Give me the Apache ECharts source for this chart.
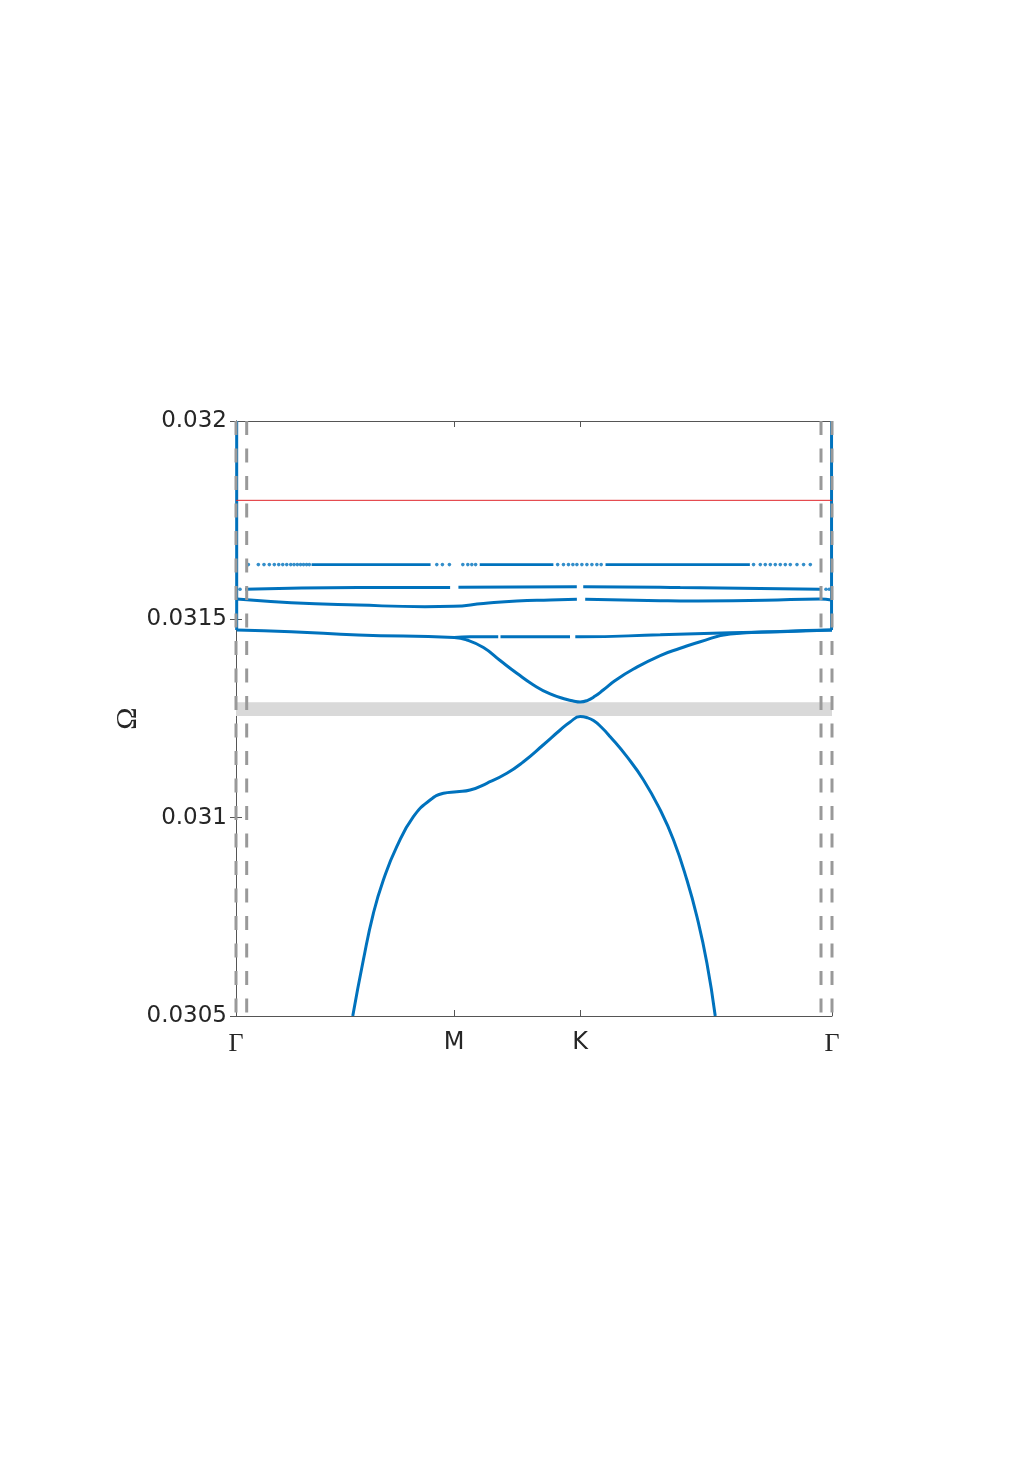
<!DOCTYPE html>
<html><head><meta charset="utf-8">
<script src="https://cdn.jsdelivr.net/npm/echarts@6/dist/echarts.min.js"></script>
<style>html,body{margin:0;padding:0;background:#fff}#c{width:1033px;height:1462px}</style>
</head><body><div id="c"></div>
<script>
// k-path coordinates: Γ=0, M, K, Γ
const kTicks = [0, 0.5774, 0.9107, 1.5774];
const kLabels = ['Γ', 'M', 'K', 'Γ'];
const omegaTicks = [0.0305, 0.031, 0.0315, 0.032];
const omegaMin = 0.0305, omegaMax = 0.032, omegaStep = 0.0005;

// band values: [k, Ω]
const band1 = [[0.309,0.0305],[0.337,0.030641],[0.3636,0.030759],[0.390,0.030843],[0.4255,0.030927],[0.4695,0.0310025],[0.5137,0.0310445],[0.549,0.0310614],[0.5844,0.0310655],[0.6196,0.0310698],[0.6638,0.0310867],[0.7168,0.0311118],[0.7608,0.0311411],[0.8129,0.0311832],[0.858,0.031221],[0.8844,0.0312412],[0.9109,0.031255],[0.9281,0.0312525],[0.9461,0.031245],[0.9665,0.0312286],[0.9904,0.0312041],[1.0346,0.0311537],[1.0785,0.031095],[1.1228,0.0310193],[1.158,0.0309437],[1.1934,0.0308429],[1.2199,0.0307503],[1.2464,0.0306329],[1.2684,0.0305]];
const band2 = [[0.0018,0.031473],[0.146,0.0314689],[0.323,0.0314605],[0.5774,0.031454],[0.6109,0.0314479],[0.6549,0.031429],[0.6991,0.0313962],[0.7433,0.031364],[0.7873,0.0313345],[0.8315,0.0313118],[0.8757,0.0312979],[0.8924,0.0312941],[0.9109,0.0312916],[0.9294,0.0312953],[0.9506,0.0313066],[0.9718,0.0313218],[1.0036,0.0313458],[1.0521,0.0313748],[1.1228,0.0314088],[1.1757,0.031427],[1.2287,0.0314436],[1.3081,0.031463],[1.4405,0.0314693],[1.5774,0.0314731]];
const band3 = [
  [[0.5774,0.031454],[0.62,0.031456],[0.694,0.031456]],
  [[0.700,0.031456],[0.80,0.031456],[0.884,0.031456]],
  [[0.898,0.031456],[0.9107,0.031456],[1.1228,0.031461],[1.3081,0.031466],[1.4405,0.031469],[1.5774,0.031473]]
];
const band4 = [
  [[0.0018,0.031551],[0.146,0.031542],[0.323,0.031536],[0.5,0.031532],[0.5754,0.031533],[0.6549,0.03154],[0.7433,0.0315462],[0.8315,0.0315487],[0.9022,0.0315505]],
  [[0.9242,0.0315505],[1.1228,0.031547],[1.1757,0.0315462],[1.40,0.031548],[1.5464,0.0315513],[1.5756,0.0315487]]
];
const band5 = [
  [[0.0238,0.031576],[0.323,0.03158],[0.5667,0.03158]],
  [[0.5887,0.031581],[0.902,0.031582]],
  [[0.919,0.031582],[1.1228,0.031581],[1.1757,0.03158],[1.5464,0.031576]]
];
const band5Dots = [[0.0106,0.031576],[1.5615,0.031576],[1.570,0.031576]];
const band6Level = 0.031638;
const band6Segments = [[0.200,0.515],[0.645,0.840],[0.978,1.360]];
const band6DotsK = [0.0326,0.0591,0.0741,0.0882,0.1014,0.1131,0.1237,0.1343,0.1449,0.1536,0.1623,0.1708,0.1787,0.1867,0.1941,
  0.5314,0.5463,0.5648,0.6003,0.6135,0.6241,0.6342,
  0.8513,0.8667,0.8799,0.8916,0.9022,0.9154,0.9287,0.9419,0.9551,0.9665,
  1.3698,1.3876,1.4008,1.4141,1.4273,1.4405,1.4538,1.4670,1.4847,1.5022,1.5200];
const steepLeft = [[0.0018,0.032],[0.0018,0.031473]];
const steepRight = [[1.5762,0.032],[1.5762,0.031473]];
const dashedK = [0, 0.0283, 1.5483, 1.5774];
const redLevel = 0.0318;
const gapBand = [0.031256, 0.031291];

const BLUE = '#0072BD';
const TXT = '#262626';
const AX = '#555555';

const series = [];
series.push({type:'line', data:[], silent:true, z:1,
  markArea:{silent:true, itemStyle:{color:'#d9d9d9'}, data:[[{yAxis:gapBand[0]},{yAxis:gapBand[1]}]]}});
function blueLine(pts, w){
  series.push({type:'line', data:pts, symbol:'none', smooth:0.5, silent:true, z:3,
    lineStyle:{color:BLUE, width:w||3}});
}
blueLine(band1); blueLine(band2);
band3.forEach(s=>blueLine(s)); band4.forEach(s=>blueLine(s)); band5.forEach(s=>blueLine(s));
band6Segments.forEach(s=>blueLine([[s[0],band6Level],[s[1],band6Level]], 2.6));
blueLine(steepLeft); blueLine(steepRight);
series.push({type:'scatter', data:band6DotsK.map(k=>[k,band6Level]).concat(band5Dots), symbolSize:3.6, silent:true, z:3,
  itemStyle:{color:BLUE}});
series.push({type:'line', data:[[kTicks[0],redLevel],[kTicks[3],redLevel]], symbol:'none', silent:true, z:4,
  lineStyle:{color:'#e0262b', width:1}});
dashedK.forEach(k=>series.push({type:'line', data:[[k,omegaMax],[k,omegaMin]], symbol:'none', silent:true, z:5,
  lineStyle:{color:'#999999', width:3, type:[14,13.5], cap:'butt'}}));

const chart = echarts.init(document.getElementById('c'), null, {renderer:'canvas'});
chart.setOption({
  animation:false,
  backgroundColor:'#ffffff',
  grid:{left:236, top:421, width:596, height:595, containLabel:false},
  xAxis:[{
    type:'value', min:kTicks[0], max:kTicks[3], position:'bottom',
    splitLine:{show:false},
    axisLine:{show:true, lineStyle:{color:AX, width:1}},
    axisTick:{show:true, inside:true, length:6, customValues:kTicks, lineStyle:{color:AX}},
    axisLabel:{show:true, margin:15, customValues:kTicks, showMinLabel:true, showMaxLabel:true,
      formatter:function(v){
        let idx=0, best=1e9;
        kTicks.forEach((t,i)=>{const d=Math.abs(t-v); if(d<best){best=d; idx=i;}});
        const l = kLabels[idx];
        return l==='Γ' ? '{g|Γ}' : '{s|'+l+'}';
      },
      rich:{g:{fontFamily:'Liberation Serif', fontSize:26, color:TXT}, s:{fontFamily:'DejaVu Sans', fontSize:24, color:TXT}}
    }
  },{
    type:'value', min:kTicks[0], max:kTicks[3], position:'top',
    splitLine:{show:false},
    axisLine:{show:true, lineStyle:{color:AX, width:1}},
    axisTick:{show:true, inside:true, length:6, customValues:kTicks, lineStyle:{color:AX}},
    axisLabel:{show:false}
  }],
  yAxis:[{
    type:'value', min:omegaMin, max:omegaMax, interval:omegaStep, position:'left',
    splitLine:{show:false},
    axisLine:{show:true, lineStyle:{color:AX, width:1}},
    axisTick:{show:true, inside:true, length:6, lineStyle:{color:AX}},
    axisLabel:{show:true, margin:9, fontFamily:'DejaVu Sans', fontSize:23, color:TXT,
      formatter:v=>parseFloat(v.toFixed(5)).toString()},
    name:'Ω', nameLocation:'middle', nameRotate:90, nameGap:93, nameMoveOverlap:false,
    nameTextStyle:{fontFamily:'Liberation Serif', fontSize:30, color:TXT}
  },{
    type:'value', min:omegaMin, max:omegaMax, interval:omegaStep, position:'right',
    splitLine:{show:false},
    axisLine:{show:true, lineStyle:{color:AX, width:1}},
    axisTick:{show:true, inside:true, length:6, lineStyle:{color:AX}},
    axisLabel:{show:false}
  }],
  series:series
});
</script></body></html>
